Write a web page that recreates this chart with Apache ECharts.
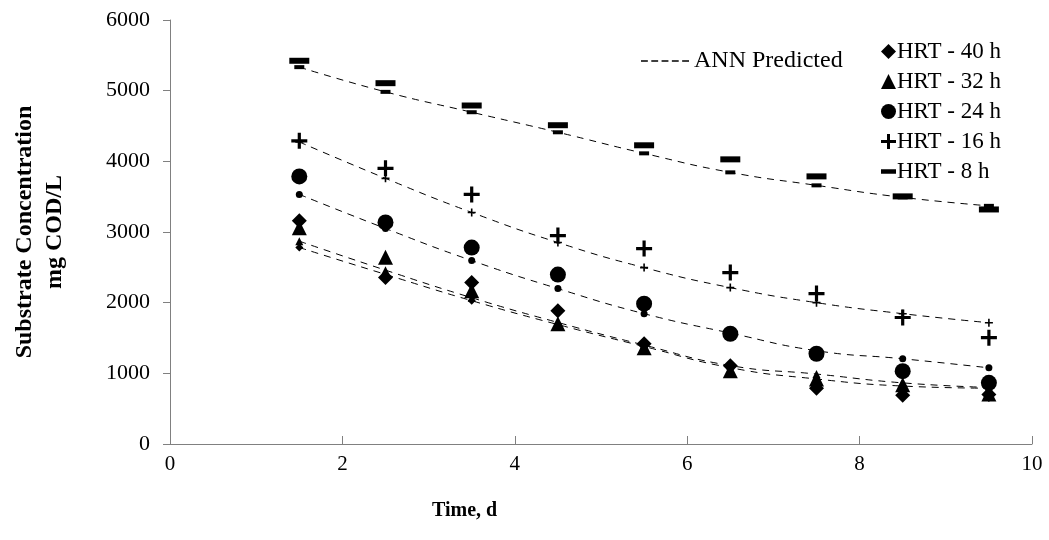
<!DOCTYPE html>
<html>
<head>
<meta charset="utf-8">
<script src="https://cdn.jsdelivr.net/npm/echarts@6/dist/echarts.min.js"></script>
<style>
  html, body { margin: 0; padding: 0; background: #fff; }
  #chart { width: 1049px; height: 540px; }
</style>
</head>
<body>
<div id="chart"></div>
<script>
// time, d
var times = [1.5, 2.5, 3.5, 4.5, 5.5, 6.5, 7.5, 8.5, 9.5];

// observed, mg COD/L
var obs40 = [3160, 2355, 2284, 1886, 1420, 1106, 790, 690, 700];
var obs32 = [3060, 2643, 2170, 1700, 1362, 1035, 920, 840, 709];
var obs24 = [3787, 3135, 2780, 2397, 1986, 1560, 1277, 1030, 865];
var obs16 = [4290, 3901, 3532, 2950, 2766, 2426, 2128, 1790, 1504];
var obs8 = [5423, 5106, 4790, 4511, 4227, 4028, 3787, 3504, 3319];

// ANN predicted
var ann40 = [2780, 2400, 2028, 1690, 1380, 1080, 920, 820, 790];
var ann32 = [2870, 2460, 2070, 1720, 1400, 1110, 990, 865, 800];
var ann24 = [3532, 3050, 2596, 2199, 1844, 1570, 1320, 1206, 1078];
var ann16 = [4274, 3759, 3277, 2851, 2496, 2213, 2000, 1844, 1716];
var ann8 = [5333, 4983, 4695, 4411, 4113, 3844, 3660, 3490, 3370];

var xTicks = [0, 10, 2];
var yTicks = [0, 6000, 1000];

var plusPath = 'path://M8,0h4v8h8v4h-8v8h-4v-8h-8v-4h8z';
var dashPath = 'path://M0,0h0.1v0.1h-0.1z M20,20h-0.1v-0.1h0.1z M0,7h20v6h-20z';
var annIcon = 'path://M0,0h8v2h-8z M12,0h8v2h-8z M24,0h8v2h-8z M36,0h8v2h-8z M48,0h8v2h-8z';

var font = 'Liberation Serif';

function pairs(vals) {
    var out = [];
    for (var i = 0; i < vals.length; i++) {
        out.push([times[i], vals[i]]);
    }
    return out;
}

function annSeries(vals, sym, size) {
    return {
        name: 'ANN Predicted',
        type: 'line',
        smooth: true,
        data: pairs(vals),
        symbol: sym,
        symbolSize: size,
        showSymbol: true,
        itemStyle: { color: '#000', opacity: 1 },
        lineStyle: { color: '#000', width: 1, type: [7, 6] },
        z: 2
    };
}

function obsSeries(name, vals, sym, size) {
    return {
        name: name,
        type: 'scatter',
        data: pairs(vals),
        symbol: sym,
        symbolSize: size,
        itemStyle: { color: '#000', opacity: 1 },
        z: 3
    };
}

var chartDom = document.getElementById('chart');
var myChart = echarts.init(chartDom);

var option = {
    animation: false,
    backgroundColor: '#fff',
    grid: { left: 170, right: 17, top: 20, bottom: 96 },
    xAxis: {
        type: 'value',
        min: xTicks[0],
        max: xTicks[1],
        interval: xTicks[2],
        axisLine: { lineStyle: { color: '#808080', width: 1 } },
        axisTick: { inside: true, length: 8, lineStyle: { color: '#808080' } },
        axisLabel: { fontFamily: font, fontSize: 21, color: '#000', margin: 10 },
        splitLine: { show: false }
    },
    yAxis: {
        type: 'value',
        min: yTicks[0],
        max: yTicks[1],
        interval: yTicks[2],
        name: 'Substrate Concentration\nmg COD/L',
        nameLocation: 'middle',
        nameRotate: 90,
        nameGap: 100,
        nameTextStyle: { fontFamily: font, fontWeight: 'bold', fontSize: 24, color: '#000', lineHeight: 30 },
        axisLine: { show: true, lineStyle: { color: '#808080', width: 1 } },
        axisTick: { show: true, inside: false, length: 7, lineStyle: { color: '#808080' } },
        axisLabel: {
            fontFamily: font, fontSize: 22, color: '#000', margin: 20,
            formatter: function (v) { return String(v); }
        },
        splitLine: { show: false }
    },
    graphic: [
        {
            type: 'text',
            left: 432,
            top: 501,
            style: { text: 'Time, d', font: 'bold 20px "Liberation Serif"', fill: '#000' }
        }
    ],
    legend: [
        {
            data: [{ name: 'ANN Predicted', icon: annIcon }],
            left: 636,
            top: 44,
            itemWidth: 48,
            itemHeight: 2,
            itemGap: 0,
            selectedMode: false,
            textStyle: { fontFamily: font, fontSize: 24, color: '#000' }
        },
        {
            data: [
                { name: 'HRT - 40 h', icon: 'diamond' },
                { name: 'HRT - 32 h', icon: 'triangle' },
                { name: 'HRT - 24 h', icon: 'circle' },
                { name: 'HRT - 16 h', icon: plusPath },
                { name: 'HRT - 8 h', icon: dashPath }
            ],
            orient: 'vertical',
            left: 876,
            top: 35,
            itemWidth: 15,
            itemHeight: 15,
            itemGap: 7,
            selectedMode: false,
            textStyle: { fontFamily: font, fontSize: 23, color: '#000', padding: [0, 0, 0, -4] }
        }
    ],
    series: [
        annSeries(ann40, 'diamond', 8),
        annSeries(ann32, 'triangle', 8),
        annSeries(ann24, 'circle', 7),
        annSeries(ann16, plusPath, 8),
        annSeries(ann8, 'rect', [10, 4]),
        obsSeries('HRT - 40 h', obs40, 'diamond', 15),
        obsSeries('HRT - 32 h', obs32, 'triangle', 15),
        obsSeries('HRT - 24 h', obs24, 'circle', 16),
        obsSeries('HRT - 16 h', obs16, plusPath, 16),
        obsSeries('HRT - 8 h', obs8, 'rect', [20, 6])
    ]
};

option && myChart.setOption(option);
</script>
</body>
</html>
